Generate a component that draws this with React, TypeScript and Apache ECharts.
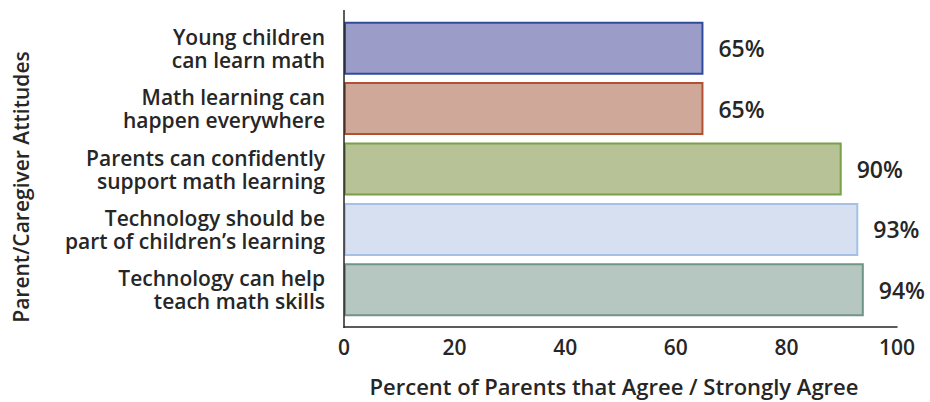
import React, { useEffect, useRef } from "react";
import * as echarts from "echarts";

const categories = [
  "Young children\ncan learn math",
  "Math learning can\nhappen everywhere",
  "Parents can confidently\nsupport math learning",
  "Technology should be\npart of children’s learning",
  "Technology can help\nteach math skills",
];
const values = [65, 65, 90, 93, 94];
const fillColors = ["#9C9CC8", "#D0A899", "#B7C396", "#D6E0F1", "#B6C7C2"];
const borderColors = ["#2F4C9C", "#B0522F", "#78A046", "#A6C0E6", "#6F9585"];
const xTicks = [0, 20, 40, 60, 80, 100];
const xTitle = "Percent of Parents that Agree / Strongly Agree";
const yTitle = "Parent/Caregiver Attitudes";

const FONT = "'Open Sans', 'Noto Sans', sans-serif";
const TEXT = "#262626";

export default function App() {
  const ref = useRef<HTMLDivElement>(null);
  useEffect(() => {
    document.body.style.margin = "0";
    if (!ref.current) return;
    const chart = echarts.init(ref.current, undefined, { renderer: "svg" });
    chart.setOption({
      animation: false,
      textStyle: { fontFamily: FONT },
      grid: { left: 344, right: 33, top: 18, height: 303 },
      xAxis: {
        type: "value",
        min: xTicks[0],
        max: xTicks[xTicks.length - 1],
        interval: xTicks[1] - xTicks[0],
        offset: 7,
        axisLine: { show: true, lineStyle: { color: TEXT, width: 1.5 } },
        axisTick: { show: false },
        splitLine: { show: false },
        axisLabel: { color: TEXT, fontSize: 21, fontWeight: 600, fontFamily: FONT, margin: 9 },
        name: xTitle,
        nameLocation: "middle",
        nameGap: 48,
        nameTextStyle: { color: TEXT, fontSize: 22, fontWeight: 600, fontFamily: FONT, padding: [0, 13, 0, 0] },
      },
      yAxis: {
        type: "category",
        data: categories,
        inverse: true,
        axisLine: { show: false },
        axisTick: { show: false },
        axisLabel: {
          color: TEXT,
          fontSize: 21,
          fontWeight: 600,
          fontFamily: FONT,
          margin: 19,
          lineHeight: 23,
          align: "right",
        },
      },
      graphic: [
        {
          type: "line",
          shape: { x1: 344, y1: 10, x2: 344, y2: 328 },
          style: { stroke: TEXT, lineWidth: 1.5 },
          z: 10,
        },
        {
          type: "text",
          x: 21,
          y: 187,
          rotation: Math.PI / 2,
          style: {
            text: yTitle,
            fill: TEXT,
            font: `600 21px ${FONT}`,
            align: "center",
            verticalAlign: "middle",
          },
        },
      ],
      series: [
        {
          type: "bar",
          barWidth: 53,
          data: values.map((v, i) => ({
            value: v,
            itemStyle: { color: fillColors[i], borderColor: borderColors[i], borderWidth: 2 },
          })),
          label: {
            show: true,
            position: "right",
            distance: 15,
            formatter: "{c}%",
            color: TEXT,
            fontSize: 23,
            fontWeight: 600,
            fontFamily: FONT,
          },
        },
      ],
    });
    return () => chart.dispose();
  }, []);
  return <div ref={ref} style={{ width: 930, height: 402 }} />;
}
